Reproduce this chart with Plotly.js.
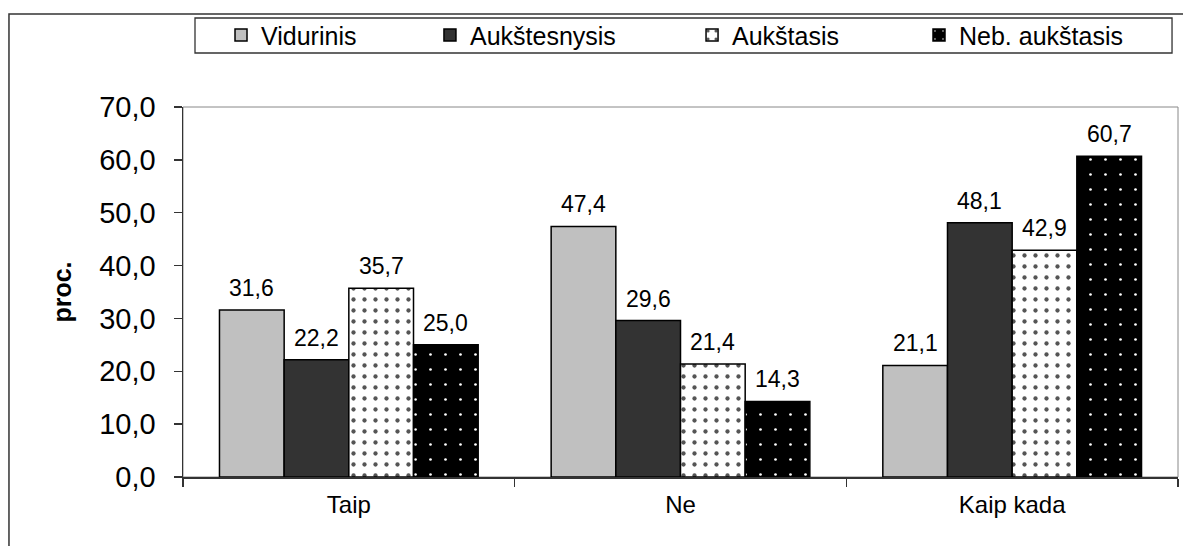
<!DOCTYPE html>
<html>
<head>
<meta charset="utf-8">
<script src="https://cdn.plot.ly/plotly-3.0.1.min.js"></script>
<style>
  html, body { margin: 0; padding: 0; background: #fff; }
  #chart { width: 1183px; height: 546px; }
</style>
</head>
<body>
<div id="chart"></div>
<script>
// Answer categories on the x axis
const categories = ['Taip', 'Ne', 'Kaip kada'];

// Education groups (series names)
const seriesNames = ['Vidurinis', 'Aukštesnysis', 'Aukštasis', 'Neb. aukštasis'];

// Shares in percent, one array per education group
const vidurinis     = [31.6, 47.4, 21.1];
const aukstesnysis  = [22.2, 29.6, 48.1];
const aukstasis     = [35.7, 21.4, 42.9];
const nebAukstasis  = [25.0, 14.3, 60.7];

// Y axis ticks
const yTicks = [0, 10, 20, 30, 40, 50, 60, 70];

const seriesValues = [vidurinis, aukstesnysis, aukstasis, nebAukstasis];

const FONT = 'Liberation Sans, Arial, Helvetica, sans-serif';

const fills = [
  { color: '#c0c0c0' },
  { color: '#333333' },
  { color: '#ffffff', pattern: { shape: '.', bgcolor: '#ffffff', fgcolor: '#555555', size: 11, solidity: 0.12, fillmode: 'replace' } },
  { color: '#000000', pattern: { shape: '.', bgcolor: '#000000', fgcolor: '#ffffff', size: 15, solidity: 0.025, fillmode: 'replace' } }
];

// One legend per series so each key entry can be placed on its own
const legendIds = ['legend', 'legend2', 'legend3', 'legend4'];
const legendX = [0.0382, 0.2482, 0.5116, 0.7397];

const traces = seriesNames.map((name, j) => {
  const marker = { color: fills[j].color, line: { color: '#000', width: 1.5 } };
  if (fills[j].pattern) marker.pattern = fills[j].pattern;
  return {
    type: 'bar',
    name: name,
    x: categories,
    y: seriesValues[j],
    marker: marker,
    legend: legendIds[j],
    hoverinfo: 'skip'
  };
});

// Value labels above each bar, placed on the category axis
const bargap = 0.22;
const nSeries = seriesNames.length;
const slot = (1 - bargap) / nSeries;
const fmt = v => v.toFixed(1).replace('.', ',');
const annotations = [];
seriesValues.forEach((vals, j) => {
  vals.forEach((v, i) => {
    annotations.push({
      x: i - (1 - bargap) / 2 + slot * (j + 0.5),
      y: v,
      xref: 'x', yref: 'y',
      text: fmt(v),
      showarrow: false,
      yanchor: 'bottom',
      yshift: 7,
      font: { family: FONT, size: 23, color: '#000' }
    });
  });
});

const legendBase = {
  orientation: 'h',
  xanchor: 'left',
  y: 1.194, yanchor: 'middle',
  bgcolor: 'rgba(0,0,0,0)',
  borderwidth: 0,
  font: { family: FONT, size: 25, color: '#000' }
};

const layout = {
  width: 1183,
  height: 546,
  margin: { l: 183, r: 5, t: 107, b: 69 },
  paper_bgcolor: '#fff',
  plot_bgcolor: '#fff',
  separators: ',.',
  font: { family: FONT, size: 21, color: '#000' },
  barmode: 'group',
  bargap: bargap,
  bargroupgap: 0,
  showlegend: true,
  xaxis: {
    type: 'category',
    showline: true, linecolor: '#333', linewidth: 1.5,
    ticks: 'outside', tickson: 'boundaries', ticklen: 8, tickcolor: '#333', tickwidth: 1.3,
    ticklabelstandoff: 6,
    showgrid: false, zeroline: false,
    tickfont: { family: FONT, size: 24, color: '#000' },
    fixedrange: true
  },
  yaxis: {
    range: [0, 70],
    tickvals: yTicks,
    tickformat: '.1f',
    showline: true, linecolor: '#333', linewidth: 1.5,
    ticks: 'outside', ticklen: 8, tickcolor: '#333', tickwidth: 1.3,
    ticklabelstandoff: 12,
    showgrid: false, zeroline: false,
    tickfont: { family: FONT, size: 29, color: '#000' },
    title: { text: '<b>proc.</b>', font: { family: FONT, size: 25, color: '#000' }, standoff: 20 },
    fixedrange: true
  },
  annotations: annotations,
  shapes: [
    // plot area frame
    { type: 'rect', xref: 'paper', yref: 'paper', x0: 0, x1: 1, y0: 0, y1: 1,
      line: { color: '#888', width: 1 }, layer: 'below' },
    // chart frame
    { type: 'rect', xref: 'paper', yref: 'paper', x0: -0.1749, x1: 1.02, y0: -0.5, y1: 1.2514,
      line: { color: '#333', width: 1.5 }, layer: 'below' },
    // legend box
    { type: 'rect', xref: 'paper', yref: 'paper', x0: 0.01206, x1: 0.994, y0: 1.1459, y1: 1.2405,
      line: { color: '#333', width: 1.3 }, fillcolor: '#fff', layer: 'below' }
  ]
};

legendIds.forEach((id, j) => {
  layout[id] = Object.assign({}, legendBase, { x: legendX[j] });
});

Plotly.newPlot('chart', traces, layout, { displayModeBar: false, staticPlot: true });
</script>
</body>
</html>
